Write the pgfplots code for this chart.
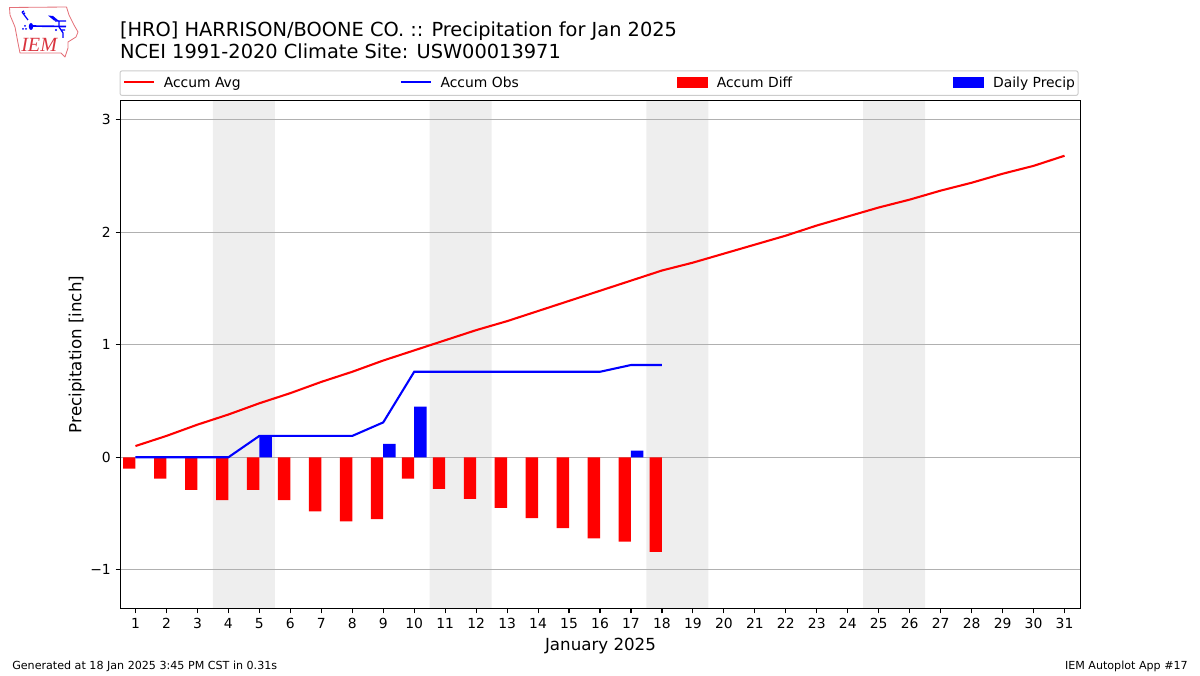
\documentclass[border=0pt]{standalone}
\usepackage{pgfplots}
\pgfplotsset{compat=1.18}
\usepackage{fontspec}
\setmainfont{DejaVu Sans}
\newfontfamily\logofont{Liberation Serif}
\definecolor{bandgray}{HTML}{EEEEEE}
\definecolor{gridgray}{HTML}{B0B0B0}
\definecolor{legedge}{HTML}{CCCCCC}
\definecolor{logored}{HTML}{D9343F}
\pgfplotstableread{
day avg
1 0.10
2 0.19
3 0.29
4 0.38
5 0.48
6 0.57
7 0.67
8 0.76
9 0.86
10 0.95
11 1.04
12 1.13
13 1.21
14 1.30
15 1.39
16 1.48
17 1.57
18 1.66
19 1.73
20 1.81
21 1.89
22 1.97
23 2.06
24 2.14
25 2.22
26 2.29
27 2.37
28 2.44
29 2.52
30 2.59
31 2.68
}\avgtable
\pgfplotstableread{
day obs diff
1 0.00 -0.10
2 0.00 -0.19
3 0.00 -0.29
4 0.00 -0.38
5 0.19 -0.29
6 0.19 -0.38
7 0.19 -0.48
8 0.19 -0.57
9 0.31 -0.55
10 0.76 -0.19
11 0.76 -0.28
12 0.76 -0.37
13 0.76 -0.45
14 0.76 -0.54
15 0.76 -0.63
16 0.76 -0.72
17 0.82 -0.75
18 0.82 -0.84
}\obstable
\pgfplotstableread{
day daily
5 0.19
9 0.12
10 0.45
17 0.06
}\dailytable
\begin{document}
\begin{tikzpicture}[x=0.72pt,y=0.72pt]
\path (0,0) rectangle (1200,675);
\begin{axis}[
  set layers,
  at={(86.76pt,47.88pt)},anchor=south west,
  scale only axis,width=691.2pt,height=365.76pt,
  xmin=0.516,xmax=31.516,ymin=-1.344,ymax=3.171,
  xtick={1,...,31},
  ytick={-1,0,1,2,3},
  yticklabels={−1,0,1,2,3},
  /pgf/number format/assume math mode=true,
  tick style={black,line width=0.8pt},
  tick align=outside,
  major tick length=3.5pt,
  xtick pos=lower,ytick pos=left,
  axis line style={line width=0.8pt},
  ymajorgrids,
  grid style={gridgray,line width=0.8pt},
  tick label style={font=\fontsize{10}{12}\selectfont},
  label style={font=\fontsize{12}{14}\selectfont},
  xlabel={January 2025},
  ylabel={Precipitation [inch]},
  ylabel style={yshift=-2.9pt},
  title style={at={(0,1)},anchor=south west,align=left,inner sep=0pt,xshift=-0.5pt,
    yshift=23.6pt,font=\fontsize{13.95}{15.8}\selectfont},
  title={[HRO] HARRISON/BOONE CO. :: Precipitation for Jan 2025\\NCEI 1991-2020 Climate Site: USW00013971},
  legend columns=4,
  legend style={at={(0,1)},anchor=south west,yshift=3.3pt,xshift=-0.7pt,
    draw=legedge,line width=0.7pt,rounded corners=1.5pt,fill=white,
    font=\fontsize{10}{12}\selectfont,
    inner xsep=2.2pt,inner ysep=4.3pt,
    /tikz/every even column/.style={column sep=0pt},
    nodes={inner sep=0pt,anchor=base west}},
  legend cell align=left,
]
% weekend bands
\addplot[on layer=axis background,fill=bandgray,draw=none,forget plot] coordinates {(3.5,-1.344)(5.5,-1.344)(5.5,3.171)(3.5,3.171)} \closedcycle;
\addplot[on layer=axis background,fill=bandgray,draw=none,forget plot] coordinates {(10.5,-1.344)(12.5,-1.344)(12.5,3.171)(10.5,3.171)} \closedcycle;
\addplot[on layer=axis background,fill=bandgray,draw=none,forget plot] coordinates {(17.5,-1.344)(19.5,-1.344)(19.5,3.171)(17.5,3.171)} \closedcycle;
\addplot[on layer=axis background,fill=bandgray,draw=none,forget plot] coordinates {(24.5,-1.344)(26.5,-1.344)(26.5,3.171)(24.5,3.171)} \closedcycle;
% bars
\addplot[ybar,bar width=0.4,bar shift=-0.2,fill=red,draw=none,forget plot] table[x=day,y=diff] {\obstable};
\addplot[ybar,bar width=0.4,bar shift=0.2,fill=blue,draw=none,forget plot] table[x=day,y=daily] {\dailytable};
% lines
\addplot[red,line width=1.5pt,no markers,forget plot] table[x=day,y=avg] {\avgtable};
\addplot[blue,line width=1.5pt,no markers,forget plot] table[x=day,y=obs] {\obstable};
% legend
\addlegendimage{legend image code/.code={\draw[red,line width=1.5pt,sharp corners] (0pt,3.6pt) -- (21.6pt,3.6pt);\path (0pt,0pt) (28.2pt,0pt);}}
\addlegendentry{\makebox[170pt][l]{Accum Avg}}
\addlegendimage{legend image code/.code={\draw[blue,line width=1.5pt,sharp corners] (0pt,3.6pt) -- (21.6pt,3.6pt);\path (0pt,0pt) (28.2pt,0pt);}}
\addlegendentry{\makebox[170pt][l]{Accum Obs}}
\addlegendimage{legend image code/.code={\fill[red,sharp corners] (0pt,0pt) rectangle (21.6pt,7.2pt);\path (28.2pt,0pt);}}
\addlegendentry{\makebox[170pt][l]{Accum Diff}}
\addlegendimage{legend image code/.code={\fill[blue,sharp corners] (0pt,0pt) rectangle (21.6pt,7.2pt);\path (28.2pt,0pt);}}
\addlegendentry{Daily Precip\hspace{5.1pt}}
\end{axis}
% footer
\node[anchor=base west,inner sep=0pt,font=\fontsize{8}{10}\selectfont] at (12,5.5) {Generated at 18 Jan 2025 3:45 PM CST in 0.31s};
\node[anchor=base east,inner sep=0pt,font=\fontsize{8}{10}\selectfont] at (1188,5.5) {IEM Autoplot App \#17};
% logo
\begin{scope}[yscale=-1,shift={(0,-675)}]
\draw[logored!70,line width=0.6pt,line join=round] (9.5,7.5)--(66.5,7)--(69,15)--(74,25)--(78,32)--(76,37)--(68,42)--(68,48)--(65,57)--(61,53)--(20,53)--(18,43)--(15,27)--(10,15)--cycle;
\draw[blue,line width=1.2pt] (30,26)--(66,26.5);
\fill[blue] (31,26.5) ellipse (2.2 and 3.5);
\draw[blue,line width=0.9pt] (28,20)--(22,12) (22,12)--(24,11) (23,14)--(25,13);
\fill[blue] (48,15.5)--(53,16)--(59,21)--(54,20.5)--cycle;
\draw[blue,line width=0.9pt] (55,21)--(66,21) (59,21)--(59,27) (59,27)--(63,33) (61,30)--(65,30) (63,33)--(63,38);
\fill[blue] (23,29) circle (1) (26,29) circle (1) (25,26) circle (1);
\fill[blue] (56,30) circle (1.2);
\node[logored,anchor=base west,inner sep=0pt,font=\logofont\itshape\fontsize{14.5}{15}\selectfont] at (21,51.5) {IEM};
\end{scope}
\end{tikzpicture}
\end{document}
